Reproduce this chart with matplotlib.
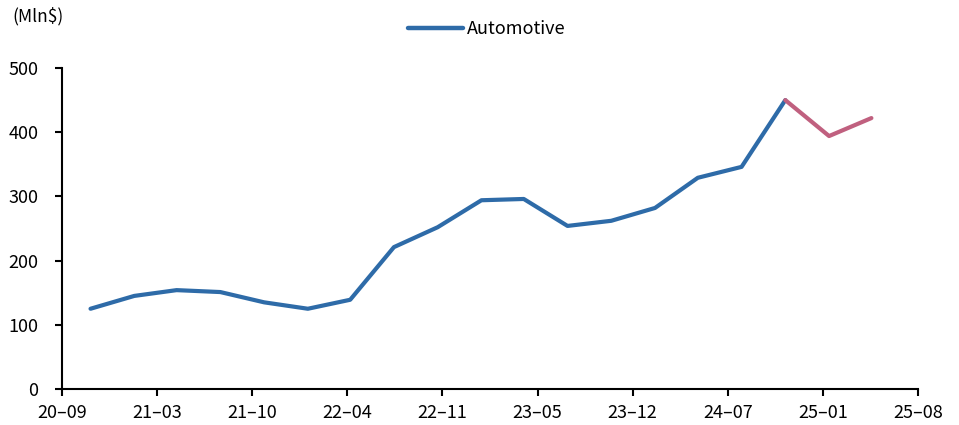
import matplotlib.pyplot as plt
import matplotlib.dates as mdates
from matplotlib.lines import Line2D
import pandas as pd

plt.rcParams['font.family'] = ['Noto Sans CJK KR', 'DejaVu Sans']

# quarterly points (month-end)
dates = ["2020-10-31", "2021-01-31", "2021-04-30", "2021-07-31", "2021-10-31",
         "2022-01-31", "2022-04-30", "2022-07-31", "2022-10-31", "2023-01-31",
         "2023-04-30", "2023-07-31", "2023-10-31", "2024-01-31", "2024-04-30",
         "2024-07-31", "2024-10-31", "2025-01-31", "2025-04-30"]
automotive = [125, 145, 154, 151, 135, 125, 139, 221, 252, 294,
              296, 254, 262, 282, 329, 346, 450, 394, 422]
n_actual = 17  # first 17 points are actual (blue), rest highlighted

x = pd.to_datetime(dates)
blue = "#2E6BA8"
pink = "#C0607F"

fig = plt.figure(figsize=(9.59, 4.25), dpi=100)
ax = fig.add_axes([62 / 959, 36 / 425, 856 / 959, 321 / 425])

ax.plot(x[:n_actual], automotive[:n_actual], color=blue, lw=3, solid_capstyle="round")
ax.plot(x[n_actual - 1:], automotive[n_actual - 1:], color=pink, lw=3, solid_capstyle="round")

x0 = pd.Timestamp("2020-09-01")
ticks = [x0 + pd.Timedelta(days=200 * i) for i in range(10)]
ax.set_xlim(ticks[0], ticks[-1])
ax.set_xticks(ticks)
ax.set_ylim(0, 500)
ax.set_yticks(range(0, 501, 100))

for s in ["top", "right"]:
    ax.spines[s].set_visible(False)
for s in ["left", "bottom"]:
    ax.spines[s].set_linewidth(1.5)
    ax.spines[s].set_color("black")
ax.tick_params(axis="both", labelsize=13, width=1.5, length=5, color="black")
ax.tick_params(axis="x", pad=6)
ax.tick_params(axis="y", pad=12)

labels = [t.strftime("%y-%m").replace("-", "\u2013") for t in ticks]
ax.set_xticklabels(labels)

fig.text(12 / 959, 1 - 16 / 425, "(Mln$)", fontsize=12.5, va="center", ha="left")

handle = Line2D([], [], color=blue, lw=3.2, solid_capstyle="round")
fig.legend([handle], ["Automotive"], loc="center", bbox_to_anchor=(487 / 959, 1 - 29 / 425),
           frameon=False, fontsize=13, handlelength=3.0, handletextpad=0.25)

fig.savefig("out.png", dpi=100)
